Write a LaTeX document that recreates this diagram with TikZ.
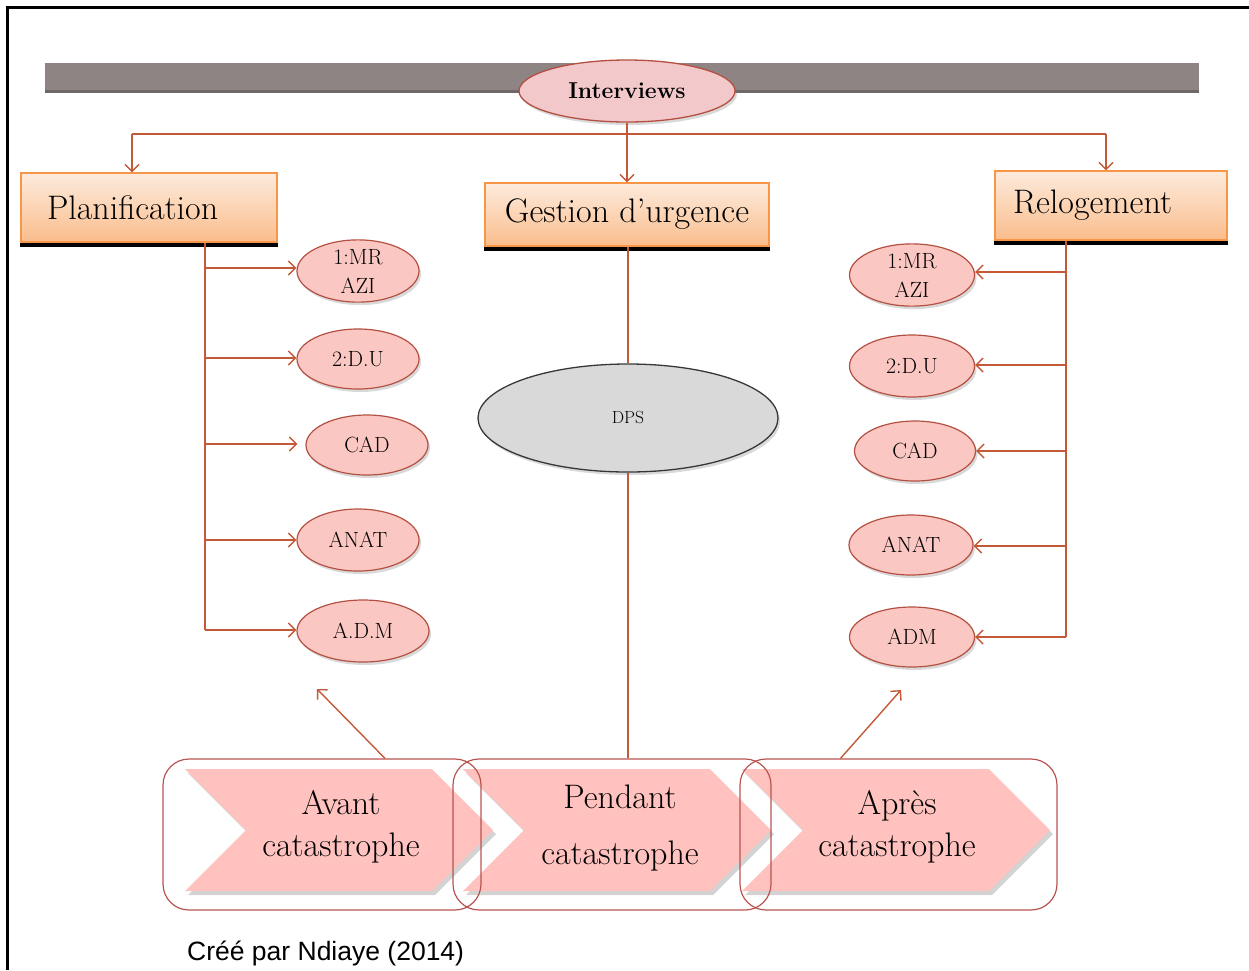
\documentclass[tikz,border=0pt]{standalone}
\usepackage{fontspec}
\newfontfamily\capfont{Liberation Sans}
\usetikzlibrary{shapes.geometric,arrows.meta,shadows,calc}
\definecolor{linec}{RGB}{196,89,55}
\definecolor{ovalb}{RGB}{180,80,65}
\definecolor{ovalf}{RGB}{251,199,194}
\definecolor{intf}{RGB}{242,200,202}
\definecolor{boxt}{RGB}{253,235,221}
\definecolor{boxbt}{RGB}{250,189,140}
\definecolor{boxb}{RGB}{247,150,70}
\definecolor{dpsf}{RGB}{217,217,217}
\definecolor{dpsb}{RGB}{55,55,55}
\definecolor{barc}{RGB}{142,132,131}
\definecolor{bard}{RGB}{112,104,104}
\definecolor{rrc}{RGB}{184,84,80}
\definecolor{chevf}{RGB}{255,194,190}
\tikzset{
  line/.style={draw=linec, line width=1.4pt},
  arr/.style={line, -{Straight Barb[length=7pt,width=14pt]}},
  oval/.style={ellipse, draw=ovalb, line width=1.2pt, fill=ovalf, inner sep=0pt,
    font=\fontsize{22}{29}\selectfont, align=center,
    drop shadow={opacity=0.3, shadow xshift=2pt, shadow yshift=-3pt}},
  hbox/.style={rectangle, draw=boxb, line width=1.3pt, top color=boxt, bottom color=boxbt,
    font=\fontsize{34}{38}\selectfont, inner sep=0pt},
  rr/.style={rectangle, draw=rrc, line width=1.2pt, rounded corners=26pt, inner sep=0pt},
  chev/.style={fill=chevf, drop shadow={opacity=0.35, shadow xshift=3pt, shadow yshift=-4pt}},
  ctext/.style={align=center, font=\fontsize{34}{42}\selectfont, inner sep=0pt},
}
\newcommand\chevronshape[1]{%
  \fill[chev] (#1,769) -- ++(247,0) -- ++(61,61) -- ++(-61,61) -- ++(-247,0) -- ++(61,-61) -- cycle;}
\begin{document}
\begin{tikzpicture}[x=1pt,y=-1pt]
\useasboundingbox (0,0) rectangle (1249,970);
% frame
\draw[line width=3pt] (1249,7) -- (7,7) -- (7,970);
% grey bar
\fill[barc] (45,63) rectangle (1199,92);
\fill[bard] (45,90) rectangle (1199,93);

% top ellipse
\node[ellipse, draw=ovalb, line width=1.3pt, fill=intf, minimum width=216pt, minimum height=62pt,
  inner sep=0pt, font=\fontsize{23}{26}\selectfont\bfseries,
  drop shadow={opacity=0.3, shadow xshift=2pt, shadow yshift=-3pt}] (int) at (627,91) {Interviews};

% boxes
\node[hbox, minimum width=256pt, minimum height=69pt, text width=204pt, align=left] (plan) at (149,207.5) {Planification};
\node[hbox, minimum width=284pt, minimum height=63pt] (gest) at (627,214.5) {Gestion d’urgence};
\node[hbox, minimum width=232pt, minimum height=69pt, text width=196pt, align=left] (relog) at (1111,205.5) {Relogement};
\foreach \b in {plan,gest,relog}{
  \draw[line width=3.5pt] ([yshift=-2.5pt]\b.south west) -- ([yshift=-2.5pt]\b.south east);
}

% top connectors
\coordinate (hc) at (627,134);
\coordinate (hl) at (132,134);
\coordinate (hr) at (1106,134);
\draw[line] (int.south) -- (hc);
\draw[line] (hl) -- (hr);
\draw[arr] (hl) -- (hl |- plan.north);
\draw[arr] (hc) -- (gest.north);
\draw[arr] (hr) -- (hr |- relog.north);

% left ellipses
\node[oval, minimum width=122pt, minimum height=60pt] (L1) at (358,271) {1:MR\\AZI};
\node[oval, minimum width=122pt, minimum height=60pt] (L2) at (358,359) {2:D.U};
\node[oval, minimum width=122pt, minimum height=60pt] (L3) at (367,445) {CAD};
\node[oval, minimum width=122pt, minimum height=62pt] (L4) at (358,540) {ANAT};
\node[oval, minimum width=132pt, minimum height=62pt] (L5) at (363,631) {A.D.M};
\coordinate (p1) at (205,268);
\coordinate (p2) at (205,358);
\coordinate (p3) at (205,444);
\coordinate (p4) at (205,540);
\coordinate (p5) at (205,630);
\draw[line] (p5 |- plan.south) -- (p5);
\draw[arr] (p1) -- (p1 -| L1.west);
\draw[arr] (p2) -- (p2 -| L2.west);
\draw[arr, shorten >=8pt] (p3) -- (p3 -| L3.west);
\draw[arr] (p4) -- (p4 -| L4.west);
\draw[arr] (p5) -- (p5 -| L5.west);

% right ellipses
\node[oval, minimum width=125pt, minimum height=60pt] (R1) at (912,275) {1:MR\\AZI};
\node[oval, minimum width=125pt, minimum height=62pt] (R2) at (912,366) {2:D.U};
\node[oval, minimum width=121pt, minimum height=60pt] (R3) at (915,451) {CAD};
\node[oval, minimum width=124pt, minimum height=60pt] (R4) at (911,545) {ANAT};
\node[oval, minimum width=125pt, minimum height=60pt] (R5) at (912,637) {ADM};
\coordinate (q1) at (1066,272);
\coordinate (q2) at (1066,365);
\coordinate (q3) at (1066,451);
\coordinate (q4) at (1066,546);
\coordinate (q5) at (1066,637);
\draw[line] (q5 |- relog.south) -- (q5);
\draw[arr] (q1) -- (q1 -| R1.east);
\draw[arr] (q2) -- (q2 -| R2.east);
\draw[arr] (q3) -- (q3 -| R3.east);
\draw[arr] (q4) -- (q4 -| R4.east);
\draw[arr] (q5) -- (q5 -| R5.east);

% DPS
\node[ellipse, draw=dpsb, line width=1.3pt, fill=dpsf, minimum width=300pt, minimum height=108pt,
  inner sep=0pt, font=\fontsize{17.5}{20}\selectfont,
  drop shadow={opacity=0.3, shadow xshift=2pt, shadow yshift=-3pt}] (dps) at (628,418) {DPS};
\draw[line] (gest.south -| dps.north) -- (dps.north);

% chevrons
\chevronshape{185}
\chevronshape{463}
\chevronshape{742}
\node[rr, minimum width=318pt, minimum height=151pt] (rA) at (322,834.5) {};
\node[rr, minimum width=318pt, minimum height=151pt] (rP) at (612,834.5) {};
\node[rr, minimum width=317pt, minimum height=151pt] (rR) at (898.5,834.5) {};
\node[ctext] (tA) at (341,827) {Avant\\catastrophe};
\node[ctext, font=\fontsize{34}{56}\selectfont] (tP) at (620,828) {Pendant\\catastrophe};
\node[ctext] (tR) at (897,827) {Après\\catastrophe};

\draw[line] (dps.south) -- (dps.south |- rP.north);
\coordinate (uA) at (317,689);
\coordinate (uR) at (901,690);
\draw[arr] ([xshift=63pt]rA.north) -- (uA);
\draw[arr] ([xshift=-58pt]rR.north) -- (uR);

% caption
\node[anchor=west, inner sep=0pt, font=\capfont\fontsize{26.5}{30}\selectfont] (cap) at (187,953) {Créé par Ndiaye (2014)};
\end{tikzpicture}
\end{document}
